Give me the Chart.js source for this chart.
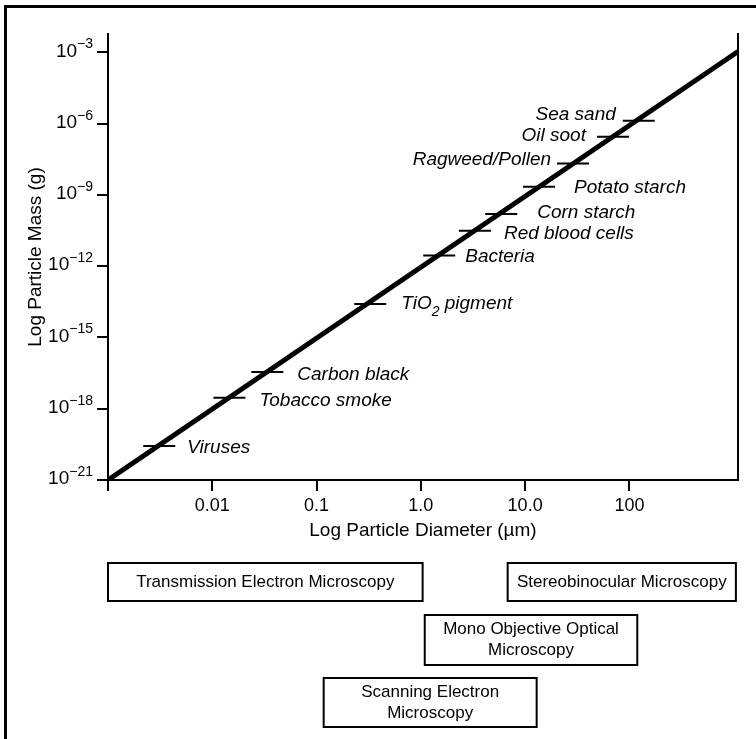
<!DOCTYPE html>
<html>
<head>
<meta charset="utf-8">
<script src="https://cdn.jsdelivr.net/npm/chart.js@4.4.1/dist/chart.umd.min.js"></script>
<style>
  html, body { margin: 0; padding: 0; background: #fff; }
  #wrap { position: relative; width: 756px; height: 739px; }
</style>
</head>
<body>
<div id="wrap"><canvas id="particle-chart" width="756" height="739"></canvas></div>
<script>
// particles (diameter in µm, mass in g)
const particleNames = ['Viruses', 'Tobacco smoke', 'Carbon black', 'TiO2 pigment', 'Bacteria', 'Red blood cells',
  'Corn starch', 'Potato starch', 'Ragweed/Pollen', 'Oil soot', 'Sea sand'];
const particleDiameters = [0.0031, 0.0146, 0.0337, 0.327, 1.5, 3.3, 5.9, 13.6, 28.8, 69.5, 123];
const particleMasses = [2.7e-20, 2.9e-18, 3.5e-17, 2.6e-14, 2.8e-12, 3.1e-11, 1.6e-10, 2.2e-9, 2.1e-8, 2.8e-7, 1.35e-6];

// end points of the diagonal line
const lineDiameters = [0.001, 1100];
const lineMasses = [1e-21, 1.1e-3];

// axis ticks
const xTickValues = [0.001, 0.01, 0.1, 1, 10, 100];
const xTickLabels = ['', '0.01', '0.1', '1.0', '10.0', '100'];
const yTickExponents = [-21, -18, -15, -12, -9, -6, -3];

// microscopy ranges along the diameter axis (µm)
const microscopyNames = [['Transmission Electron Microscopy'], ['Stereobinocular Microscopy'],
  ['Mono Objective Optical', 'Microscopy'], ['Scanning Electron', 'Microscopy']];
const microscopyFrom = [0.001, 6.8, 1.09, 0.117];
const microscopyTo = [1.04, 1050, 119, 12.9];

// layout only: where the labels sit next to their marks, and box rows under the axis
const labelAlign = ['left', 'left', 'left', 'left', 'left', 'left', 'left', 'left', 'right', 'right', 'right'];
const labelDx = [28, 30, 30, 31, 26, 29, 36, 35, -22, -27, -23];
const labelDy = [2, 3, 3, 0, 1, 3, -1, 1, -4, -1, -6];
const boxRows = [[563, 601], [563, 601], [615, 665], [678, 727]];

const FONT = '"Liberation Sans", Arial, Helvetica, sans-serif';

// text with a subscript digit (TiO2)
function drawLabel(ctx, text, x, y, align) {
  ctx.font = 'italic 19px ' + FONT;
  ctx.textBaseline = 'middle';
  const m = text.match(/^(.*?O)(\d)(.*)$/);
  if (!m) {
    ctx.textAlign = align;
    ctx.fillText(text, x, y);
    return;
  }
  const w1 = ctx.measureText(m[1]).width;
  const w3 = ctx.measureText(m[3]).width;
  ctx.font = 'italic 14px ' + FONT;
  const w2 = ctx.measureText(m[2]).width;
  let left = align === 'right' ? x - (w1 + w2 + w3) : x;
  ctx.textAlign = 'left';
  ctx.font = 'italic 19px ' + FONT;
  ctx.fillText(m[1], left, y);
  ctx.font = 'italic 14px ' + FONT;
  ctx.fillText(m[2], left + w1, y + 8);
  ctx.font = 'italic 19px ' + FONT;
  ctx.fillText(m[3], left + w1 + w2, y);
}

const decorPlugin = {
  id: 'decor',
  beforeDraw(chart) {
    const ctx = chart.ctx;
    ctx.save();
    ctx.fillStyle = '#fff';
    ctx.fillRect(0, 0, chart.width, chart.height);
    // outer frame (top and left)
    ctx.fillStyle = '#000';
    ctx.fillRect(4, 5, chart.width - 4, 3);
    ctx.fillRect(4, 5, 3, chart.height - 5);
    ctx.restore();
  },
  afterDraw(chart) {
    const ctx = chart.ctx;
    const xs = chart.scales.x;
    const ys = chart.scales.y;
    ctx.save();
    ctx.fillStyle = '#000';

    // y tick labels: 10 with a superscript exponent
    ys.ticks.forEach(t => {
      const py = ys.getPixelForValue(t.value);
      const exp = Math.round(Math.log10(t.value));
      const sup = '\u2212' + Math.abs(exp);
      ctx.textBaseline = 'middle';
      ctx.textAlign = 'right';
      ctx.font = '14px ' + FONT;
      const supW = ctx.measureText(sup).width;
      ctx.fillText(sup, 93, py - 8);
      ctx.font = '19px ' + FONT;
      ctx.fillText('10', 93 - supW, py - 1);
    });

    // particle names next to their marks
    const pts = chart.getDatasetMeta(1).data;
    particleNames.forEach((name, i) => {
      const p = pts[i];
      drawLabel(ctx, name, p.x + labelDx[i], p.y + labelDy[i], labelAlign[i]);
    });

    // microscopy boxes under the diameter axis
    ctx.lineWidth = 2;
    ctx.strokeStyle = '#000';
    microscopyNames.forEach((lines, i) => {
      const x1 = xs.getPixelForValue(microscopyFrom[i]);
      const x2 = xs.getPixelForValue(microscopyTo[i]);
      const [y1, y2] = boxRows[i];
      ctx.strokeRect(x1, y1, x2 - x1, y2 - y1);
      ctx.font = '17px ' + FONT;
      ctx.textAlign = 'center';
      ctx.textBaseline = 'middle';
      const cy = (y1 + y2) / 2;
      const lh = 21;
      lines.forEach((txt, j) => {
        ctx.fillText(txt, (x1 + x2) / 2, cy + (j - (lines.length - 1) / 2) * lh);
      });
    });
    ctx.restore();
  }
};

Chart.defaults.font.family = FONT;
Chart.defaults.color = '#000';

const axisGrid = { drawOnChartArea: false, drawTicks: true, tickLength: 11, color: '#000', lineWidth: 2 };
const axisBorder = { display: true, color: '#000', width: 2 };

new Chart(document.getElementById('particle-chart'), {
  type: 'scatter',
  data: {
    datasets: [{
      label: 'mass vs diameter',
      data: lineDiameters.map((d, i) => ({ x: d, y: lineMasses[i] })),
      showLine: true,
      borderColor: '#000',
      borderWidth: 5,
      borderCapStyle: 'butt',
      pointRadius: 0
    }, {
      label: 'particles',
      data: particleDiameters.map((d, i) => ({ x: d, y: particleMasses[i] })),
      showLine: false,
      pointStyle: 'line',
      pointRadius: 16,
      pointHoverRadius: 16,
      pointBorderWidth: 2,
      pointBorderColor: '#000',
      pointBackgroundColor: '#000'
    }]
  },
  options: {
    responsive: false,
    animation: false,
    devicePixelRatio: 1,
    events: [],
    layout: { padding: { left: 0, right: 17, top: 34, bottom: 189 } },
    plugins: {
      legend: { display: false },
      tooltip: { enabled: false }
    },
    scales: {
      x: {
        type: 'logarithmic',
        min: 0.001,
        max: 1100,
        afterBuildTicks: s => { s.ticks = xTickValues.map(v => ({ value: v })); },
        afterFit: s => { s.height = 70; },
        grid: axisGrid,
        border: axisBorder,
        ticks: {
          autoSkip: false,
          maxRotation: 0,
          padding: 4,
          color: '#000',
          font: { size: 18 },
          callback: v => {
            const i = xTickValues.indexOf(v);
            return i < 0 ? '' : xTickLabels[i];
          }
        },
        title: {
          display: true,
          text: 'Log Particle Diameter (µm)',
          color: '#000',
          font: { size: 19 },
          padding: { top: 0, bottom: 8 }
        }
      },
      y: {
        type: 'logarithmic',
        min: 1e-21,
        max: 6e-3,
        afterBuildTicks: s => { s.ticks = yTickExponents.map(e => ({ value: Math.pow(10, e) })); },
        afterFit: s => { s.width = 108; },
        grid: axisGrid,
        border: axisBorder,
        ticks: { display: false },
        title: {
          display: true,
          text: 'Log Particle Mass (g)',
          color: '#000',
          font: { size: 19 },
          padding: { top: 24, bottom: 0 }
        }
      },
      y2: {
        type: 'linear',
        position: 'right',
        afterFit: s => { s.width = 0; },
        grid: { drawOnChartArea: false, drawTicks: false },
        border: axisBorder,
        ticks: { display: false }
      }
    }
  },
  plugins: [decorPlugin]
});
</script>
</body>
</html>
